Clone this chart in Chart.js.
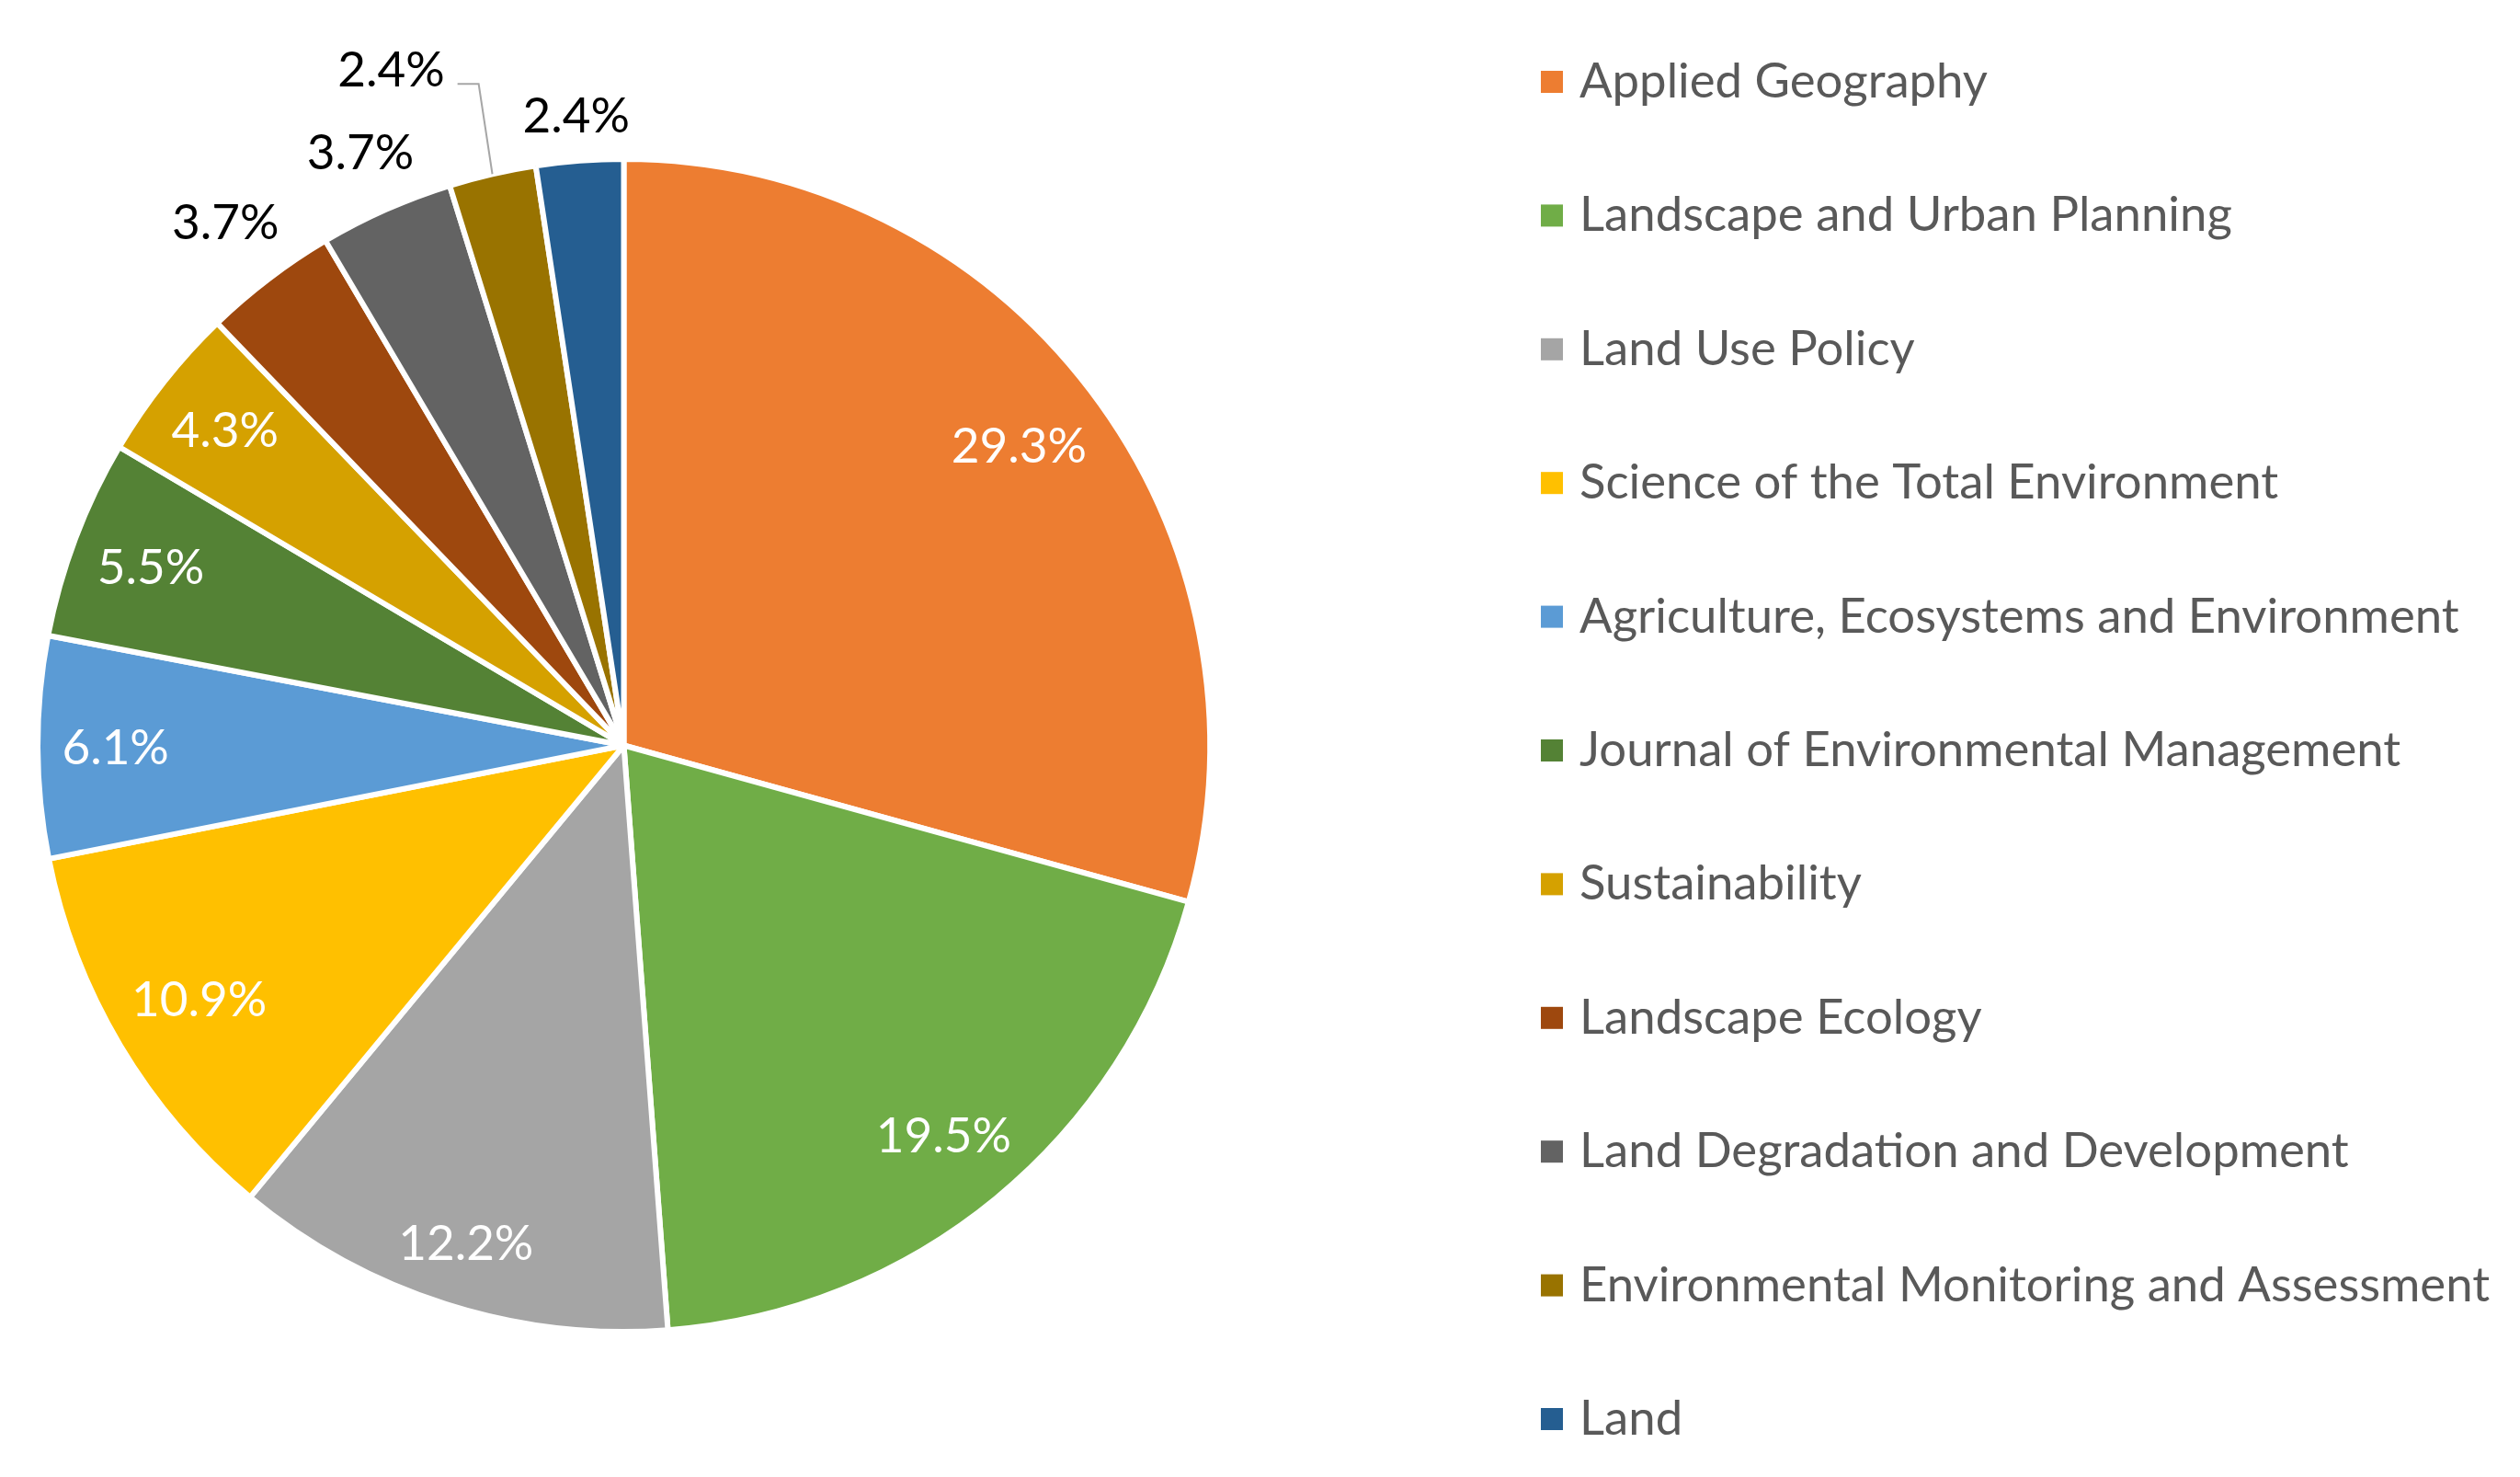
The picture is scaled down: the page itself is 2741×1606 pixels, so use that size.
<!DOCTYPE html>
<html>
<head>
<meta charset="utf-8">
<script src="https://cdn.jsdelivr.net/npm/chart.js@4.4.1/dist/chart.umd.min.js"></script>
<style>
  html, body { margin: 0; padding: 0; background: #ffffff; overflow: hidden; }
  canvas { display: block; }
</style>
</head>
<body>
<canvas id="c" width="2741" height="1606"></canvas>
<script>
// ---- data ----
const categories = [
  'Applied Geography',
  'Landscape and Urban Planning',
  'Land Use Policy',
  'Science of the Total Environment',
  'Agriculture, Ecosystems and Environment',
  'Journal of Environmental Management',
  'Sustainability',
  'Landscape Ecology',
  'Land Degradation and Development',
  'Environmental Monitoring and Assessment',
  'Land'
];
const shares = [29.3, 19.5, 12.2, 10.9, 6.1, 5.5, 4.3, 3.7, 3.7, 2.4, 2.4];
const valueLabels = ['29.3%', '19.5%', '12.2%', '10.9%', '6.1%', '5.5%', '4.3%', '3.7%', '3.7%', '2.4%', '2.4%'];
const sliceColors = [
  '#ED7D31', '#70AD47', '#A5A5A5', '#FFC000', '#5B9BD5', '#548235',
  '#D5A100', '#9E480E', '#636363', '#997300', '#255E91'
];

const FONT_FAMILY = 'Lato, "Open Sans", sans-serif';
const LABEL_SIZE = 53;
const LEGEND_SIZE = 52.7;

function boxDist(cx, cy, hw, hh) {
  const dx = Math.max(Math.abs(cx) - hw, 0);
  const dy = Math.max(Math.abs(cy) - hh, 0);
  return Math.hypot(dx, dy);
}

const sliceLabelPlugin = {
  id: 'sliceLabels',
  afterDatasetsDraw(chart, args, opts) {
    const ctx = chart.ctx;
    const meta = chart.getDatasetMeta(0);
    ctx.save();
    ctx.font = `${opts.size}px ${opts.family}`;
    ctx.textAlign = 'center';
    ctx.textBaseline = 'alphabetic';
    const capHalf = opts.size * 0.36;
    meta.data.forEach((arc, i) => {
      const p = arc.getProps(['x', 'y', 'startAngle', 'endAngle', 'outerRadius'], true);
      const mid = (p.startAngle + p.endAngle) / 2;
      const cos = Math.cos(mid), sin = Math.sin(mid);
      const text = valueLabels[i];
      const hw = ctx.measureText(text).width / 2;
      const hh = opts.halfHeight;
      const inside = shares[i] >= opts.insideMin;
      let t;
      if (inside) {
        const target = p.outerRadius - opts.insideMargin;
        const b = Math.abs(cos) * hw + Math.abs(sin) * hh;
        const c = hw * hw + hh * hh - target * target;
        t = -b + Math.sqrt(b * b - c);
      } else {
        const target = p.outerRadius + opts.outsideGap;
        let lo = 0, hi = p.outerRadius * 2;
        for (let k = 0; k < 50; k++) {
          const m = (lo + hi) / 2;
          if (boxDist(m * cos, m * sin, hw, hh) < target) lo = m; else hi = m;
        }
        t = hi;
      }
      let lx = p.x + t * cos;
      let ly = p.y + t * sin;
      const nudge = opts.nudge[i];
      if (nudge) {
        lx += nudge[0];
        ly += nudge[1];
        // leader line from label to slice edge
        const ex = p.x + p.outerRadius * cos;
        const ey = p.y + p.outerRadius * sin;
        const sx = lx + hw + opts.leaderGap;
        const sy = ly + opts.leaderDrop;
        ctx.beginPath();
        ctx.moveTo(sx, sy);
        ctx.lineTo(sx + opts.leaderRun, sy);
        ctx.lineTo(ex, ey);
        ctx.strokeStyle = opts.leaderColor;
        ctx.lineWidth = 2;
        ctx.stroke();
      }
      ctx.fillStyle = inside ? opts.insideColor : opts.outsideColor;
      ctx.fillText(text, lx, ly + capHalf);
    });
    ctx.restore();
  }
};

const sideLegendPlugin = {
  id: 'sideLegend',
  afterDraw(chart, args, opts) {
    const ctx = chart.ctx;
    ctx.save();
    ctx.font = `${opts.size}px ${opts.family}`;
    ctx.textAlign = 'left';
    ctx.textBaseline = 'alphabetic';
    const colors = chart.data.datasets[0].backgroundColor;
    chart.data.labels.forEach((lab, i) => {
      const y = opts.top + i * opts.step;
      ctx.fillStyle = colors[i];
      ctx.fillRect(opts.boxX, y, opts.box, opts.box);
      ctx.fillStyle = opts.color;
      ctx.fillText(lab, opts.textX, y + opts.baseline);
    });
    ctx.restore();
  }
};

function build() {
  new Chart(document.getElementById('c'), {
    type: 'pie',
    data: {
      labels: categories,
      datasets: [{
        data: shares,
        backgroundColor: sliceColors,
        borderColor: '#ffffff',
        borderWidth: 6
      }]
    },
    options: {
      responsive: false,
      devicePixelRatio: 1,
      animation: false,
      layout: { padding: { left: 38, top: 170, right: 1422, bottom: 155 } },
      plugins: {
        legend: { display: false },
        tooltip: { enabled: false },
        sliceLabels: {
          family: FONT_FAMILY, size: LABEL_SIZE,
          halfHeight: 20, insideMin: 4, insideMargin: 26, outsideGap: 28,
          insideColor: '#ffffff', outsideColor: '#000000',
          nudge: { 9: [-97, -57] },
          leaderGap: 14, leaderRun: 23, leaderDrop: 16, leaderColor: '#A6A6A6'
        },
        sideLegend: {
          family: FONT_FAMILY, size: LEGEND_SIZE, color: '#595959',
          boxX: 1676, textX: 1718, top: 77, step: 145.4, box: 24, baseline: 29
        }
      }
    },
    plugins: [sliceLabelPlugin, sideLegendPlugin]
  });
}

if (document.fonts && document.fonts.load) {
  document.fonts.load(`${LABEL_SIZE}px Lato`).then(build, build);
} else {
  build();
}
</script>
</body>
</html>
